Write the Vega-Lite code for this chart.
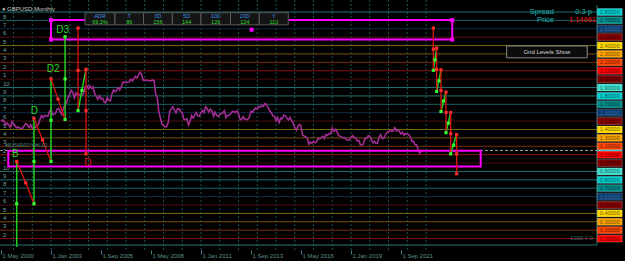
{
 "$schema": "https://vega.github.io/schema/vega-lite/v6.json",
 "width": 625,
 "height": 250,
 "autosize": {"type": "none"},
 "padding": {"left": 0, "top": 0, "right": 0, "bottom": 11},
 "background": "#000000",
 "config": {"view": {"stroke": null}, "font": "Liberation Sans"},
 "datasets": {
  "levels": [
   {"p": 2.8, "d": "8", "lab": "8", "t": "2.80000"}, {"p": 2.7, "d": "7", "lab": "7", "t": "2.70000"}, {"p": 2.6, "d": "6", "lab": "6", "t": "2.60000"},
   {"p": 2.5, "d": "5", "lab": "5", "t": "2.50000"}, {"p": 2.4, "d": "4", "lab": "4", "t": "2.40000"}, {"p": 2.3, "d": "3", "lab": "3", "t": "2.30000"},
   {"p": 2.2, "d": "2", "lab": "2", "t": "2.20000"}, {"p": 2.1, "d": "1", "lab": "1", "t": "2.10000"}, {"p": 2.0, "d": "0", "lab": "10", "t": "2.00000"},
   {"p": 1.9, "d": "9", "lab": "9", "t": "1.90000"}, {"p": 1.8, "d": "8", "lab": "8", "t": "1.80000"}, {"p": 1.7, "d": "7", "lab": "7", "t": "1.70000"},
   {"p": 1.6, "d": "6", "lab": "6", "t": "1.60000"}, {"p": 1.5, "d": "5", "lab": "5", "t": "1.50000"}, {"p": 1.4, "d": "4", "lab": "4", "t": "1.40000"},
   {"p": 1.3, "d": "3", "lab": "3", "t": "1.30000"}, {"p": 1.2, "d": "2", "lab": "2", "t": "1.20000"}, {"p": 1.1, "d": "1", "lab": "1", "t": "1.10000"},
   {"p": 1.0, "d": "0", "lab": "10", "t": "1.00000"}, {"p": 0.9, "d": "9", "lab": "9", "t": "0.90000"}, {"p": 0.8, "d": "8", "lab": "8", "t": "0.80000"},
   {"p": 0.7, "d": "7", "lab": "7", "t": "0.70000"}, {"p": 0.6, "d": "6", "lab": "6", "t": "0.60000"}, {"p": 0.5, "d": "5", "lab": "5", "t": "0.50000"},
   {"p": 0.4, "d": "4", "lab": "4", "t": "0.40000"}, {"p": 0.3, "d": "3", "lab": "3", "t": "0.30000"}, {"p": 0.2, "d": "2", "lab": "2", "t": "0.20000"},
   {"p": 0.1, "d": "1", "lab": "", "t": "0.10000"}
  ],
  "years": [
   {"m": 8}, {"m": 20}, {"m": 32}, {"m": 44}, {"m": 56}, {"m": 68}, {"m": 80}, {"m": 92}, {"m": 104}, {"m": 116}, {"m": 128}, {"m": 140},
   {"m": 152}, {"m": 164}, {"m": 176}, {"m": 188}, {"m": 200}, {"m": 212}, {"m": 224}, {"m": 236}, {"m": 248}, {"m": 260}, {"m": 272}
  ],
  "price": [
   {"m":0,"p":1.495},{"m":1,"p":1.514},{"m":2,"p":1.497},{"m":3,"p":1.454},{"m":4,"p":1.477},{"m":5,"p":1.451},{"m":6,"p":1.424},{"m":7,"p":1.493},
   {"m":8,"p":1.465},{"m":9,"p":1.443},{"m":10,"p":1.420},{"m":11,"p":1.431},{"m":12,"p":1.418},{"m":13,"p":1.407},{"m":14,"p":1.421},{"m":15,"p":1.450},{"m":16,"p":1.470},{"m":17,"p":1.454},{"m":18,"p":1.424},{"m":19,"p":1.455},
   {"m":20,"p":1.411},{"m":21,"p":1.423},{"m":22,"p":1.424},{"m":23,"p":1.457},{"m":24,"p":1.463},{"m":25,"p":1.524},{"m":26,"p":1.566},{"m":27,"p":1.542},{"m":28,"p":1.569},{"m":29,"p":1.564},{"m":30,"p":1.556},{"m":31,"p":1.610},
   {"m":32,"p":1.646},{"m":33,"p":1.576},{"m":34,"p":1.580},{"m":35,"p":1.597},{"m":36,"p":1.645},{"m":37,"p":1.650},{"m":38,"p":1.608},{"m":39,"p":1.577},{"m":40,"p":1.661},{"m":41,"p":1.693},{"m":42,"p":1.720},{"m":43,"p":1.786},
   {"m":44,"p":1.821},{"m":45,"p":1.868},{"m":46,"p":1.840},{"m":47,"p":1.774},{"m":48,"p":1.834},{"m":49,"p":1.815},{"m":50,"p":1.818},{"m":51,"p":1.802},{"m":52,"p":1.810},{"m":53,"p":1.839},{"m":54,"p":1.912},{"m":55,"p":1.919},
   {"m":56,"p":1.883},{"m":57,"p":1.920},{"m":58,"p":1.888},{"m":59,"p":1.908},{"m":60,"p":1.820},{"m":61,"p":1.791},{"m":62,"p":1.759},{"m":63,"p":1.800},{"m":64,"p":1.765},{"m":65,"p":1.771},{"m":66,"p":1.729},{"m":67,"p":1.719},
   {"m":68,"p":1.780},{"m":69,"p":1.749},{"m":70,"p":1.741},{"m":71,"p":1.824},{"m":72,"p":1.871},{"m":73,"p":1.849},{"m":74,"p":1.868},{"m":75,"p":1.903},{"m":76,"p":1.872},{"m":77,"p":1.909},{"m":78,"p":1.966},{"m":79,"p":1.959},
   {"m":80,"p":1.962},{"m":81,"p":1.962},{"m":82,"p":1.968},{"m":83,"p":1.999},{"m":84,"p":1.979},{"m":85,"p":2.008},{"m":86,"p":2.033},{"m":87,"p":2.016},{"m":88,"p":2.045},{"m":89,"p":2.082},{"m":90,"p":2.056},{"m":91,"p":1.985},
   {"m":92,"p":1.988},{"m":93,"p":1.986},{"m":94,"p":1.984},{"m":95,"p":1.984},{"m":96,"p":1.979},{"m":97,"p":1.991},{"m":98,"p":1.981},{"m":99,"p":1.822},{"m":100,"p":1.782},{"m":101,"p":1.613},{"m":102,"p":1.537},{"m":103,"p":1.462},
   {"m":104,"p":1.449},{"m":105,"p":1.431},{"m":106,"p":1.433},{"m":107,"p":1.480},{"m":108,"p":1.616},{"m":109,"p":1.645},{"m":110,"p":1.671},{"m":111,"p":1.630},{"m":112,"p":1.598},{"m":113,"p":1.649},{"m":114,"p":1.646},{"m":115,"p":1.615},
   {"m":116,"p":1.599},{"m":117,"p":1.522},{"m":118,"p":1.518},{"m":119,"p":1.529},{"m":120,"p":1.453},{"m":121,"p":1.495},{"m":122,"p":1.569},{"m":123,"p":1.536},{"m":124,"p":1.571},{"m":125,"p":1.603},{"m":126,"p":1.558},{"m":127,"p":1.561},
   {"m":128,"p":1.602},{"m":129,"p":1.627},{"m":130,"p":1.603},{"m":131,"p":1.670},{"m":132,"p":1.645},{"m":133,"p":1.606},{"m":134,"p":1.643},{"m":135,"p":1.623},{"m":136,"p":1.559},{"m":137,"p":1.607},{"m":138,"p":1.570},{"m":139,"p":1.553},
   {"m":140,"p":1.576},{"m":141,"p":1.591},{"m":142,"p":1.599},{"m":143,"p":1.624},{"m":144,"p":1.542},{"m":145,"p":1.567},{"m":146,"p":1.568},{"m":147,"p":1.587},{"m":148,"p":1.616},{"m":149,"p":1.613},{"m":150,"p":1.603},{"m":151,"p":1.625},
   {"m":152,"p":1.586},{"m":153,"p":1.518},{"m":154,"p":1.519},{"m":155,"p":1.553},{"m":156,"p":1.519},{"m":157,"p":1.521},{"m":158,"p":1.521},{"m":159,"p":1.550},{"m":160,"p":1.619},{"m":161,"p":1.603},{"m":162,"p":1.637},{"m":163,"p":1.656},
   {"m":164,"p":1.644},{"m":165,"p":1.675},{"m":166,"p":1.667},{"m":167,"p":1.688},{"m":168,"p":1.676},{"m":169,"p":1.711},{"m":170,"p":1.688},{"m":171,"p":1.660},{"m":172,"p":1.621},{"m":173,"p":1.600},{"m":174,"p":1.564},{"m":175,"p":1.558},
   {"m":176,"p":1.506},{"m":177,"p":1.544},{"m":178,"p":1.483},{"m":179,"p":1.535},{"m":180,"p":1.528},{"m":181,"p":1.571},{"m":182,"p":1.562},{"m":183,"p":1.535},{"m":184,"p":1.513},{"m":185,"p":1.543},{"m":186,"p":1.506},{"m":187,"p":1.474},
   {"m":188,"p":1.424},{"m":189,"p":1.392},{"m":190,"p":1.436},{"m":191,"p":1.461},{"m":192,"p":1.448},{"m":193,"p":1.331},{"m":194,"p":1.323},{"m":195,"p":1.313},{"m":196,"p":1.297},{"m":197,"p":1.224},{"m":198,"p":1.251},{"m":199,"p":1.234},
   {"m":200,"p":1.258},{"m":201,"p":1.241},{"m":202,"p":1.255},{"m":203,"p":1.295},{"m":204,"p":1.288},{"m":205,"p":1.303},{"m":206,"p":1.320},{"m":207,"p":1.293},{"m":208,"p":1.340},{"m":209,"p":1.329},{"m":210,"p":1.352},{"m":211,"p":1.350},
   {"m":212,"p":1.418},{"m":213,"p":1.378},{"m":214,"p":1.402},{"m":215,"p":1.377},{"m":216,"p":1.330},{"m":217,"p":1.320},{"m":218,"p":1.312},{"m":219,"p":1.300},{"m":220,"p":1.303},{"m":221,"p":1.277},{"m":222,"p":1.274},{"m":223,"p":1.275},
   {"m":224,"p":1.311},{"m":225,"p":1.326},{"m":226,"p":1.303},{"m":227,"p":1.304},{"m":228,"p":1.263},{"m":229,"p":1.270},{"m":230,"p":1.216},{"m":231,"p":1.217},{"m":232,"p":1.229},{"m":233,"p":1.294},{"m":234,"p":1.293},{"m":235,"p":1.326},
   {"m":236,"p":1.320},{"m":237,"p":1.282},{"m":238,"p":1.242},{"m":239,"p":1.259},{"m":240,"p":1.235},{"m":241,"p":1.240},{"m":242,"p":1.309},{"m":243,"p":1.337},{"m":244,"p":1.292},{"m":245,"p":1.295},{"m":246,"p":1.334},{"m":247,"p":1.368},
   {"m":248,"p":1.371},{"m":249,"p":1.393},{"m":250,"p":1.378},{"m":251,"p":1.382},{"m":252,"p":1.422},{"m":253,"p":1.383},{"m":254,"p":1.391},{"m":255,"p":1.376},{"m":256,"p":1.348},{"m":257,"p":1.369},{"m":258,"p":1.330},{"m":259,"p":1.353},
   {"m":260,"p":1.344},{"m":261,"p":1.341},{"m":262,"p":1.313},{"m":263,"p":1.257},{"m":264,"p":1.261},{"m":265,"p":1.218},{"m":266,"p":1.218},{"m":267,"p":1.162},{"m":268,"p":1.116},{"m":269,"p":1.147},{"m":270,"p":1.150}
  ],
  "current": [{"p": 1.1496}],
  "boxes": [
   {"m0": 32, "m1": 288.8, "p0": 2.472, "p1": 2.704},
   {"m0": 4.67, "m1": 307, "p0": 0.958, "p1": 1.148}
  ],
  "dots": [
   {"m": 32, "p": 2.704}, {"m": 32, "p": 2.472}, {"m": 288.8, "p": 2.704}, {"m": 288.8, "p": 2.472}, {"m": 160.4, "p": 2.589}
  ],
  "zz": [
   {"s":"L1","dir":"up","m":10.05,"p":0.0},{"s":"L1","dir":"up","m":10.05,"p":1.019},
   {"s":"L2","dir":"down","m":10.05,"p":1.019},{"s":"L2","dir":"down","m":15.8,"p":0.765},{"s":"L2","dir":"down","m":21.1,"p":0.515},
   {"s":"L3","dir":"up","m":21.1,"p":0.515},{"s":"L3","dir":"up","m":21.1,"p":1.534},
   {"s":"L4","dir":"down","m":21.1,"p":1.534},{"s":"L4","dir":"down","m":26.6,"p":1.275},{"s":"L4","dir":"down","m":32,"p":1.019},
   {"s":"L5","dir":"up","m":32,"p":1.019},{"s":"L5","dir":"up","m":32,"p":2.003},
   {"s":"L6","dir":"down","m":32,"p":2.003},{"s":"L6","dir":"down","m":36.5,"p":1.762},{"s":"L6","dir":"down","m":41,"p":1.52},
   {"s":"L7","dir":"up","m":41,"p":1.52},{"s":"L7","dir":"up","m":41,"p":2.506},
   {"s":"L8","dir":"down","m":49.3,"p":2.609},{"s":"L8","dir":"down","m":49.3,"p":1.625},
   {"s":"L9","dir":"up","m":49.3,"p":1.625},{"s":"L9","dir":"up","m":51.8,"p":1.865},{"s":"L9","dir":"up","m":54.4,"p":2.117},
   {"s":"L10","dir":"down","m":54.4,"p":2.117},{"s":"L10","dir":"down","m":54.4,"p":1.11},
   {"s":"R1","dir":"down","m":276.7,"p":2.609},{"s":"R1","dir":"down","m":276.7,"p":2.105},
   {"s":"R2","dir":"up","m":276.7,"p":2.105},{"s":"R2","dir":"up","m":278.8,"p":2.369},
   {"s":"R3","dir":"down","m":278.8,"p":2.369},{"s":"R3","dir":"down","m":278.8,"p":1.854},
   {"s":"R4","dir":"up","m":278.8,"p":1.854},{"s":"R4","dir":"up","m":281.6,"p":2.111},
   {"s":"R5","dir":"down","m":281.6,"p":2.111},{"s":"R5","dir":"down","m":281.6,"p":1.614},
   {"s":"R6","dir":"up","m":281.6,"p":1.614},{"s":"R6","dir":"up","m":284.8,"p":1.846},
   {"s":"R7","dir":"down","m":284.8,"p":1.846},{"s":"R7","dir":"down","m":284.8,"p":1.362},
   {"s":"R8","dir":"up","m":284.8,"p":1.362},{"s":"R8","dir":"up","m":287.8,"p":1.602},
   {"s":"R9","dir":"down","m":287.8,"p":1.602},{"s":"R9","dir":"down","m":287.8,"p":1.11},
   {"s":"R10","dir":"up","m":287.8,"p":1.11},{"s":"R10","dir":"up","m":291.6,"p":1.339},
   {"s":"R11","dir":"down","m":291.6,"p":1.339},{"s":"R11","dir":"down","m":291.6,"p":0.873}
  ],
  "mk": [
   {"dir":"down","m":10.05,"p":1.019},{"dir":"down","m":15.8,"p":0.765},{"dir":"down","m":21.1,"p":1.534},{"dir":"down","m":26.6,"p":1.275},
   {"dir":"down","m":32,"p":2.003},{"dir":"down","m":36.5,"p":1.762},{"dir":"down","m":49.3,"p":2.609},{"dir":"down","m":49.3,"p":2.105},
   {"dir":"down","m":54.4,"p":2.117},{"dir":"down","m":54.4,"p":1.625},{"dir":"down","m":54.4,"p":1.11},
   {"dir":"up","m":10.05,"p":0.515},{"dir":"up","m":21.1,"p":0.515},{"dir":"up","m":21.1,"p":1.019},{"dir":"up","m":32,"p":1.019},
   {"dir":"up","m":32,"p":1.51},{"dir":"up","m":41,"p":1.52},{"dir":"up","m":41,"p":2.003},{"dir":"up","m":41,"p":2.506},
   {"dir":"up","m":49.3,"p":1.625},{"dir":"up","m":51.8,"p":1.865},
   {"dir":"down","m":276.7,"p":2.609},{"dir":"down","m":276.7,"p":2.357},{"dir":"down","m":278.8,"p":2.369},{"dir":"down","m":278.8,"p":2.117},
   {"dir":"down","m":281.6,"p":2.111},{"dir":"down","m":281.6,"p":1.865},{"dir":"down","m":284.8,"p":1.846},{"dir":"down","m":284.8,"p":1.602},
   {"dir":"down","m":287.8,"p":1.602},{"dir":"down","m":287.8,"p":1.35},{"dir":"down","m":291.6,"p":1.339},{"dir":"down","m":291.6,"p":1.11},
   {"dir":"down","m":291.6,"p":0.873},
   {"dir":"up","m":276.7,"p":2.105},{"dir":"up","m":277.7,"p":2.231},{"dir":"up","m":278.8,"p":1.854},{"dir":"up","m":280.3,"p":1.98},
   {"dir":"up","m":281.6,"p":1.614},{"dir":"up","m":283.2,"p":1.74},{"dir":"up","m":284.8,"p":1.362},{"dir":"up","m":286.3,"p":1.476},
   {"dir":"up","m":287.8,"p":1.11},{"dir":"up","m":289.7,"p":1.213}
  ],
  "pat": [
   {"txt":"B","dir":"up","m":9.1,"p":1.113},
   {"txt":"D","dir":"up","m":21.4,"p":1.625},
   {"txt":"D2","dir":"up","m":33.4,"p":2.12},
   {"txt":"D3","dir":"up","m":39.4,"p":2.586},
   {"txt":"D","dir":"down","m":55.6,"p":1.004}
  ],
  "tbl": [
   {"h":"ADR","v":"69.3%","m0":53.76,"m1":72.96,"m":63.36},
   {"h":"T","v":"86","m0":72.96,"m1":91.2,"m":82.08},
   {"h":"3D","v":"156","m0":91.2,"m1":109.63,"m":100.4},
   {"h":"5D","v":"144","m0":109.63,"m1":128.0,"m":118.8},
   {"h":"10D","v":"126","m0":128.0,"m1":146.88,"m":137.4},
   {"h":"20D","v":"124","m0":146.88,"m1":165.31,"m":156.1},
   {"h":"Y","v":"110","m0":165.31,"m1":183.87,"m":174.6}
  ],
  "button": [{"txt":"Grid Levels Show","m0":323.6,"m1":375.2,"p0":2.254,"p1":2.395,"m":349.4,"p":2.324}],
  "notes": [
   {"txt":"♦ GBPUSD,Monthly","m":0.8,"p":2.83,"g":"title"},
   {"txt":"Spread","m":353.9,"p":2.8,"g":"info"},
   {"txt":"0.3 p","m":378.2,"p":2.8,"g":"info"},
   {"txt":"Price","m":353.9,"p":2.708,"g":"info"},
   {"txt":"1.14961","m":380.8,"p":2.708,"g":"price"},
   {"txt":"#8354900⁴S#LID","m":2.6,"p":1.213,"g":"tag"},
   {"txt":"1000 ◊ 0","m":378.9,"p":0.103,"g":"foot"}
  ]
 },
 "layer": [
  {
   "data": {"name": "years"},
   "mark": {"type": "rule", "color": "#1f5454", "strokeDash": [2, 2], "strokeWidth": 1},
   "encoding": {
    "x": {"field": "m", "type": "quantitative", "title": null,
     "scale": {"domain": [-0.64, 399.36], "nice": false, "zero": false},
     "axis": {"orient": "bottom", "title": null,
      "values": [0, 32, 64, 96, 128, 160, 192, 224, 256],
      "labelExpr": "timeFormat(datetime(2000, 4 + datum.value, 1), '%-d %b %Y')",
      "grid": false, "ticks": true, "tickSize": 4, "tickColor": "#3f7f7f",
      "domain": false, "labelAlign": "left", "labelPadding": -2, "labelOffset": 1, "labelBaseline": "top",
      "labelColor": "#5d8f8f", "labelFontSize": 6, "labelFont": "Liberation Sans",
      "labelOverlap": false, "labelBound": false, "labelFlush": false}}
   }
  },
  {
   "data": {"name": "levels"},
   "mark": {"type": "rule", "strokeWidth": 1},
   "encoding": {
    "y": {"field": "p", "type": "quantitative", "title": null,
     "scale": {"domain": [0.0234, 2.8835], "nice": false, "zero": false}, "axis": null},
    "x": {"datum": -0.64, "type": "quantitative"},
    "x2": {"datum": 381.44},
    "stroke": {"field": "d", "type": "nominal", "legend": null,
     "scale": {"domain": ["9","8","7","6","5","4","3","2","1","0"],
      "range": ["#1f7272","#1f7272","#186262","#0e2c4c","#501010","#7c6c0c","#7c4e0c","#7c2c0c","#8c1212","#4c0808"]}}
   }
  },
  {
   "data": {"name": "levels"},
   "mark": {"type": "text", "color": "#7f9f9f", "fontSize": 6, "font": "Liberation Sans", "align": "left", "baseline": "middle", "dy": 4.5},
   "encoding": {
    "y": {"field": "p", "type": "quantitative", "title": null},
    "x": {"datum": 1.3, "type": "quantitative"},
    "text": {"field": "lab"}
   }
  },
  {
   "data": {"values": [{}]},
   "mark": {"type": "rule", "color": "#2a7474", "strokeWidth": 1},
   "encoding": {"y": {"datum": 0.0234}, "x": {"datum": -0.64}, "x2": {"datum": 381.44}}
  },
  {
   "data": {"values": [{}]},
   "mark": {"type": "rule", "color": "#2a7474", "strokeWidth": 1},
   "encoding": {"x": {"datum": 381.44}, "y": {"datum": 0.0234}, "y2": {"datum": 2.8835}}
  },
  {
   "data": {"name": "price"},
   "mark": {"type": "line", "color": "#a02c94", "strokeWidth": 1.6},
   "encoding": {
    "x": {"field": "m", "type": "quantitative", "title": null},
    "y": {"field": "p", "type": "quantitative", "title": null}
   }
  },
  {
   "data": {"name": "current"},
   "mark": {"type": "rule", "color": "#9a9a9a", "strokeDash": [3, 2], "strokeWidth": 1},
   "encoding": {"y": {"field": "p", "type": "quantitative", "title": null}, "x": {"datum": -0.64}, "x2": {"datum": 381.44}}
  },
  {
   "data": {"name": "boxes"},
   "mark": {"type": "rect", "filled": false, "color": "#ff00ff", "strokeWidth": 2},
   "encoding": {
    "x": {"field": "m0", "type": "quantitative", "title": null}, "x2": {"field": "m1"},
    "y": {"field": "p0", "type": "quantitative", "title": null}, "y2": {"field": "p1"}
   }
  },
  {
   "data": {"name": "dots"},
   "mark": {"type": "square", "color": "#ff00ff", "filled": true, "size": 16, "opacity": 1},
   "encoding": {"x": {"field": "m", "type": "quantitative", "title": null}, "y": {"field": "p", "type": "quantitative", "title": null}}
  },
  {
   "data": {"name": "tbl"},
   "mark": {"type": "rect", "fill": "#141414", "stroke": "#5a5a5a", "strokeWidth": 1},
   "encoding": {
    "x": {"field": "m0", "type": "quantitative", "title": null}, "x2": {"field": "m1"},
    "y": {"datum": 2.647}, "y2": {"datum": 2.792}
   }
  },
  {
   "data": {"name": "tbl"},
   "mark": {"type": "text", "color": "#3a8ee6", "fontSize": 5.5, "font": "Liberation Sans", "align": "center", "baseline": "middle"},
   "encoding": {"x": {"field": "m", "type": "quantitative", "title": null}, "y": {"datum": 2.758}, "text": {"field": "h"}}
  },
  {
   "data": {"name": "tbl"},
   "mark": {"type": "text", "color": "#2fd82f", "fontSize": 5.5, "font": "Liberation Sans", "align": "center", "baseline": "middle"},
   "encoding": {"x": {"field": "m", "type": "quantitative", "title": null}, "y": {"datum": 2.684}, "text": {"field": "v"}}
  },
  {
   "data": {"name": "zz"},
   "transform": [{"filter": "datum.dir == 'up'"}],
   "mark": {"type": "line", "color": "#22d022", "strokeWidth": 1.5, "clip": true},
   "encoding": {
    "x": {"field": "m", "type": "quantitative", "title": null},
    "y": {"field": "p", "type": "quantitative", "title": null},
    "detail": {"field": "s"}
   }
  },
  {
   "data": {"name": "zz"},
   "transform": [{"filter": "datum.dir == 'down'"}],
   "mark": {"type": "line", "color": "#e01010", "strokeWidth": 1.3, "clip": true},
   "encoding": {
    "x": {"field": "m", "type": "quantitative", "title": null},
    "y": {"field": "p", "type": "quantitative", "title": null},
    "detail": {"field": "s"}
   }
  },
  {
   "data": {"name": "mk"},
   "transform": [{"filter": "datum.dir == 'up'"}],
   "mark": {"type": "square", "color": "#33ff33", "filled": true, "size": 10, "opacity": 1},
   "encoding": {"x": {"field": "m", "type": "quantitative", "title": null}, "y": {"field": "p", "type": "quantitative", "title": null}}
  },
  {
   "data": {"name": "mk"},
   "transform": [{"filter": "datum.dir == 'down'"}],
   "mark": {"type": "square", "color": "#ff2a2a", "filled": true, "size": 10, "opacity": 1},
   "encoding": {"x": {"field": "m", "type": "quantitative", "title": null}, "y": {"field": "p", "type": "quantitative", "title": null}}
  },
  {
   "data": {"name": "pat"},
   "transform": [{"filter": "datum.dir == 'up'"}],
   "mark": {"type": "text", "color": "#2bd42b", "fontSize": 10, "font": "Liberation Sans", "align": "center", "baseline": "middle"},
   "encoding": {"x": {"field": "m", "type": "quantitative", "title": null}, "y": {"field": "p", "type": "quantitative", "title": null}, "text": {"field": "txt"}}
  },
  {
   "data": {"name": "pat"},
   "transform": [{"filter": "datum.dir == 'down'"}],
   "mark": {"type": "text", "color": "#e01010", "fontSize": 10, "font": "Liberation Sans", "align": "center", "baseline": "middle"},
   "encoding": {"x": {"field": "m", "type": "quantitative", "title": null}, "y": {"field": "p", "type": "quantitative", "title": null}, "text": {"field": "txt"}}
  },
  {
   "data": {"name": "current"},
   "mark": {"type": "bar", "color": "#20c8c8", "size": 7},
   "encoding": {"y": {"field": "p", "type": "quantitative", "title": null}, "x": {"datum": 381.6}, "x2": {"datum": 397.6}}
  },
  {
   "data": {"name": "levels"},
   "mark": {"type": "bar", "size": 7, "stroke": "#ffffff", "strokeOpacity": 0.3, "strokeWidth": 0.7},
   "encoding": {
    "y": {"field": "p", "type": "quantitative", "title": null},
    "x": {"datum": 381.6}, "x2": {"datum": 397.6},
    "fill": {"field": "d", "type": "nominal", "legend": null,
     "scale": {"domain": ["9","8","7","6","5","4","3","2","1","0"],
      "range": ["#40e0d0","#00ced1","#008b8b","#0b3a6e","#8b0000","#ffd700","#ffa500","#ff4500","#ff0000","#800000"]}}
   }
  },
  {
   "data": {"name": "levels"},
   "mark": {"type": "text", "fontSize": 5.5, "font": "Liberation Sans", "align": "center", "baseline": "middle"},
   "encoding": {
    "y": {"field": "p", "type": "quantitative", "title": null},
    "x": {"datum": 389.6},
    "text": {"field": "t"},
    "color": {"field": "d", "type": "nominal", "legend": null,
     "scale": {"domain": ["9","8","7","6","5","4","3","2","1","0"],
      "range": ["#156a64","#0a5c5e","#033f3f","#3a6ea8","#3c0000","#6e5c00","#6e4600","#6e1c00","#6e0000","#300000"]}}
   }
  },
  {
   "data": {"name": "button"},
   "mark": {"type": "rect", "fill": "#0c0c0c", "stroke": "#8a8a8a", "strokeWidth": 1},
   "encoding": {
    "x": {"field": "m0", "type": "quantitative", "title": null}, "x2": {"field": "m1"},
    "y": {"field": "p0", "type": "quantitative", "title": null}, "y2": {"field": "p1"}
   }
  },
  {
   "data": {"name": "button"},
   "mark": {"type": "text", "color": "#d6d6d6", "fontSize": 6, "font": "Liberation Sans", "align": "center", "baseline": "middle"},
   "encoding": {"x": {"field": "m", "type": "quantitative", "title": null}, "y": {"field": "p", "type": "quantitative", "title": null}, "text": {"field": "txt"}}
  },
  {
   "data": {"name": "notes"},
   "transform": [{"filter": "datum.g == 'title'"}],
   "mark": {"type": "text", "color": "#c8c8c8", "fontSize": 6, "font": "Liberation Sans", "align": "left", "baseline": "middle"},
   "encoding": {"x": {"field": "m", "type": "quantitative", "title": null}, "y": {"field": "p", "type": "quantitative", "title": null}, "text": {"field": "txt"}}
  },
  {
   "data": {"name": "notes"},
   "transform": [{"filter": "datum.g == 'info'"}],
   "mark": {"type": "text", "color": "#20b0b0", "fontSize": 7.5, "font": "Liberation Sans", "align": "right", "baseline": "middle"},
   "encoding": {"x": {"field": "m", "type": "quantitative", "title": null}, "y": {"field": "p", "type": "quantitative", "title": null}, "text": {"field": "txt"}}
  },
  {
   "data": {"name": "notes"},
   "transform": [{"filter": "datum.g == 'price'"}],
   "mark": {"type": "text", "color": "#ff1a1a", "fontSize": 7.5, "font": "Liberation Sans", "align": "right", "baseline": "middle"},
   "encoding": {"x": {"field": "m", "type": "quantitative", "title": null}, "y": {"field": "p", "type": "quantitative", "title": null}, "text": {"field": "txt"}}
  },
  {
   "data": {"name": "notes"},
   "transform": [{"filter": "datum.g == 'tag'"}],
   "mark": {"type": "text", "color": "#3f7c7c", "fontSize": 5.5, "font": "Liberation Sans", "align": "left", "baseline": "middle"},
   "encoding": {"x": {"field": "m", "type": "quantitative", "title": null}, "y": {"field": "p", "type": "quantitative", "title": null}, "text": {"field": "txt"}}
  },
  {
   "data": {"name": "notes"},
   "transform": [{"filter": "datum.g == 'foot'"}],
   "mark": {"type": "text", "color": "#2f6a6a", "fontSize": 6, "font": "Liberation Sans", "align": "right", "baseline": "middle"},
   "encoding": {"x": {"field": "m", "type": "quantitative", "title": null}, "y": {"field": "p", "type": "quantitative", "title": null}, "text": {"field": "txt"}}
  }
 ]
}
